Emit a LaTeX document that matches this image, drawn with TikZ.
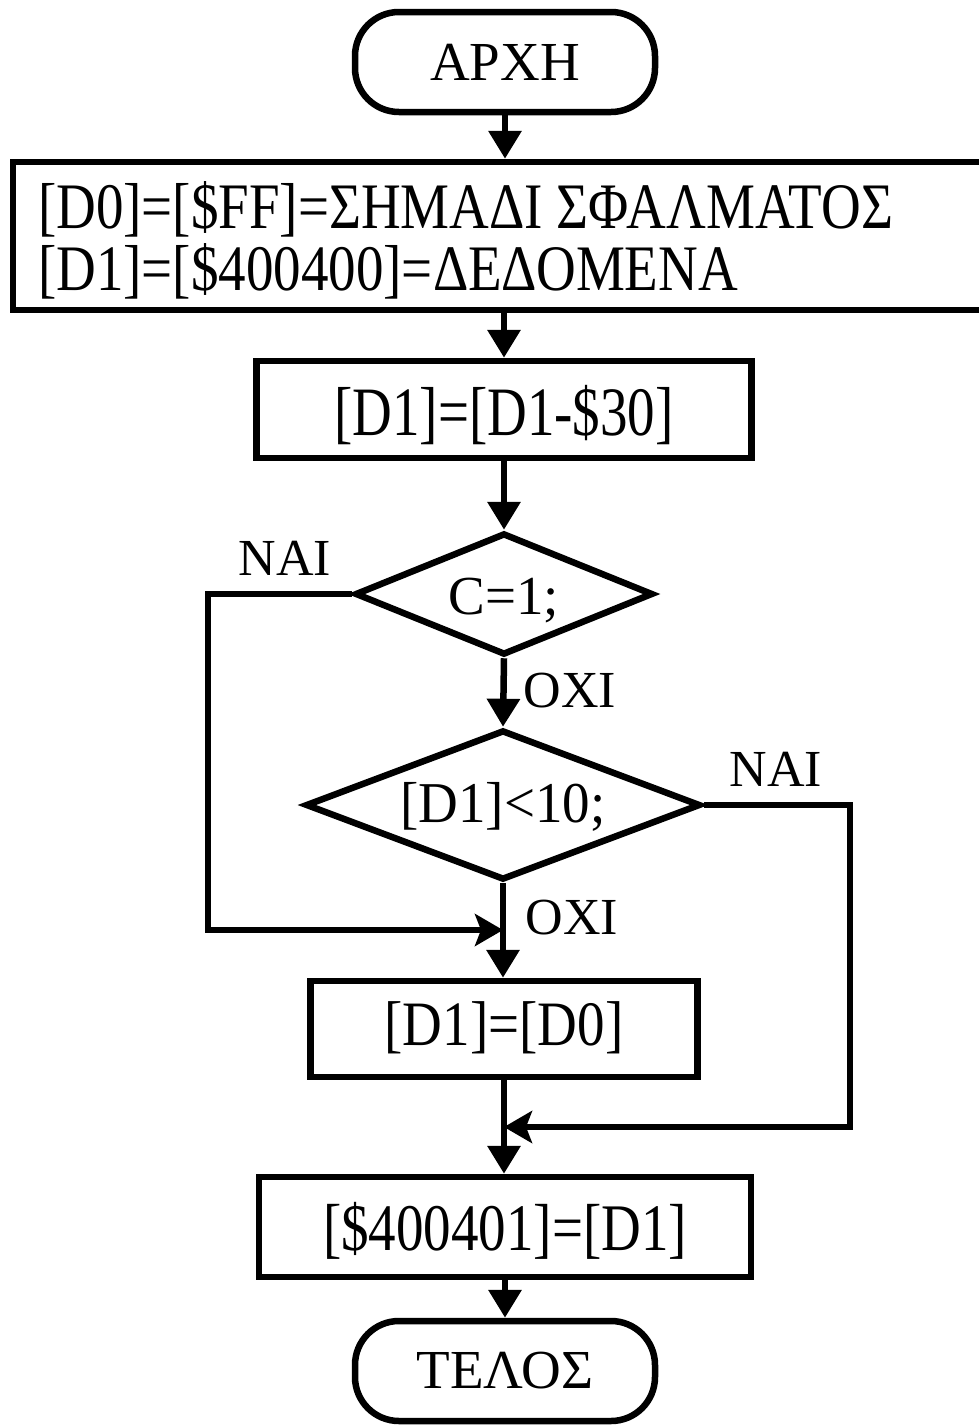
\documentclass[tikz,border=0pt]{standalone}
\usepackage{graphicx}
\usepackage{fontspec}
\setmainfont{Liberation Serif}
\usetikzlibrary{shapes.geometric,arrows.meta,calc}
\newcommand{\ysc}[2]{\scalebox{1}[#1]{#2}}
\begin{document}
\begin{tikzpicture}[x=1pt,y=-1pt,
  every node/.style={font=\fontsize{55}{62}\selectfont},
  term/.style={draw,line width=6.5pt,rounded corners=44pt,minimum width=300pt,minimum height=100pt,inner sep=0pt,text depth=0pt},
  proc/.style={draw,line width=6.5pt,inner sep=0pt,text depth=0pt},
  dec/.style={draw,diamond,line width=6.5pt,inner sep=0pt,text depth=0pt},
  flow/.style={line width=6.5pt,-{Triangle[length=28pt,width=32pt]}},
  flowh/.style={line width=6.5pt,-{Stealth[length=28pt,width=32pt,inset=6pt]}},
  lbl/.style={anchor=base,inner sep=0pt,font=\fontsize{52}{60}\selectfont}
]
\useasboundingbox (0,0) rectangle (979,1425);
\node[term,text height=36pt] (start) at (505,62) {ΑΡΧΗ};
\node[proc,minimum width=990pt,minimum height=148pt,inner xsep=25pt,text height=40pt,text depth=56pt] (init) at (508,236)
  {\makebox[940pt][l]{\vtop{\baselineskip=62pt\lineskiplimit=-100pt
   \hbox{\ysc{1.18}{[D0]=[\$FF]=ΣΗΜΑΔΙ ΣΦΑΛΜΑΤΟΣ}}
   \hbox{\ysc{1.18}{[D1]=[\$400400]=ΔΕΔΟΜΕΝΑ}}}}};
\node[proc,minimum width=495pt,minimum height=97pt,text height=51pt] (sub) at (504,409.5) {\ysc{1.26}{[D1]=[D1-\$30]}};
\node[dec,minimum width=298pt,minimum height=122pt,aspect=2.44,text height=40pt] (c1) at (504,594) {C=1;};
\node[dec,minimum width=395pt,minimum height=150pt,aspect=2.63,text height=34pt] (c2) at (503,805) {\ysc{1.05}{[D1]<10;}};
\node[proc,minimum width=387pt,minimum height=96pt,text height=32pt] (err) at (504,1029) {\ysc{1.15}{[D1]=[D0]}};
\node[proc,minimum width=492pt,minimum height=100pt,text height=46pt] (store) at (505,1227) {\ysc{1.21}{[\$400401]=[D1]}};
\node[term,text height=34pt] (end) at (505,1371) {ΤΕΛΟΣ};

\node[lbl] (nai1) at (285,575) {ΝΑΙ};
\node[lbl] (oxi1) at (570,707) {ΟΧΙ};
\node[lbl] (nai2) at (776,786) {ΝΑΙ};
\node[lbl] (oxi2) at (572,934) {ΟΧΙ};

\coordinate (l1) at (208,594);
\coordinate (j1) at (503,930);
\coordinate (r1) at (850,805);
\coordinate (j2) at (504,1127);

\draw[flow] (start.south) -- (start.south |- init.north);
\draw[flow] (sub.north |- init.south) -- (sub.north);
\draw[flow] (sub.south) -- (c1.north);
\draw[flow] (c1.south) -- (c2.north);
\draw[flow] (c2.south) -- (c2.south |- err.north);
\draw[flowh] (c1.west) -- (l1) |- (j1);
\draw[flow] (err.south) -- (err.south |- store.north);
\draw[flowh] (c2.east) -- (r1) |- (j2);
\draw[flow] (store.south) -- (store.south |- end.north);
\end{tikzpicture}
\end{document}
